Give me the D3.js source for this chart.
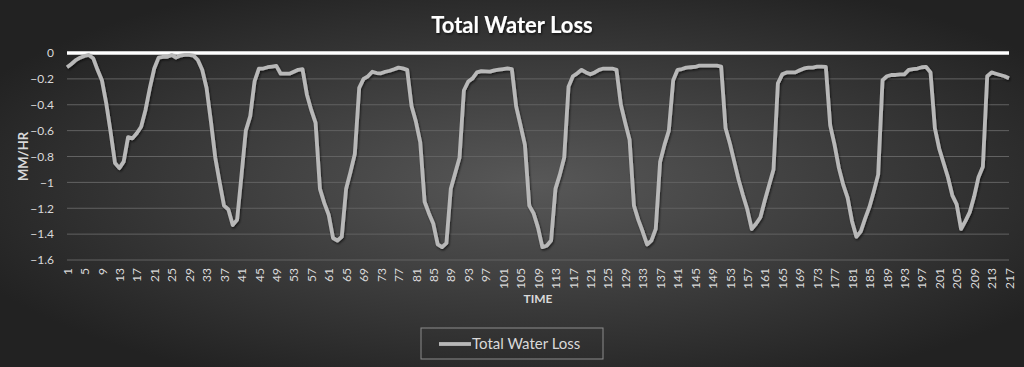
<!DOCTYPE html>
<html>
<head>
<meta charset="utf-8">
<script src="https://cdn.jsdelivr.net/npm/d3@7"></script>
<style>
  html, body { margin: 0; padding: 0; background: #2a2a2a; }
  svg { display: block; font-family: Lato, "Open Sans", sans-serif; }
</style>
</head>
<body>
<div id="chart"></div>
<script>
// total water loss, mm/hr, one value per time step (1..217)
var loss = [
  -0.11, -0.085, -0.055, -0.036, -0.023, -0.015, -0.04, -0.13, -0.21, -0.39,
  -0.61, -0.85, -0.89, -0.84, -0.65, -0.66, -0.62, -0.57, -0.44, -0.27,
  -0.12, -0.036, -0.03, -0.03, -0.015, -0.036, -0.02, -0.015, -0.015, -0.02,
  -0.054, -0.13, -0.27, -0.53, -0.81, -1.0, -1.18, -1.21, -1.33, -1.29,
  -0.95, -0.6, -0.49, -0.22, -0.12, -0.12, -0.11, -0.105, -0.1, -0.16,
  -0.16, -0.16, -0.145, -0.13, -0.125, -0.32, -0.44, -0.54, -1.05, -1.16,
  -1.25, -1.43, -1.45, -1.42, -1.05, -0.92, -0.78, -0.27, -0.2, -0.18,
  -0.145, -0.155, -0.157, -0.145, -0.137, -0.126, -0.113, -0.119, -0.13, -0.41,
  -0.53, -0.69, -1.15, -1.24, -1.32, -1.48, -1.5, -1.47, -1.05, -0.93,
  -0.81, -0.29, -0.22, -0.196, -0.15, -0.14, -0.142, -0.144, -0.134, -0.129,
  -0.124, -0.119, -0.124, -0.415, -0.56, -0.71, -1.18, -1.24, -1.35, -1.5,
  -1.49, -1.45, -1.05, -0.94, -0.81, -0.26, -0.18, -0.157, -0.13, -0.15,
  -0.165, -0.15, -0.13, -0.12, -0.12, -0.12, -0.13, -0.4, -0.54, -0.67,
  -1.18, -1.29, -1.38, -1.48, -1.45, -1.36, -0.84, -0.71, -0.6, -0.21,
  -0.13, -0.124, -0.113, -0.11, -0.108, -0.098, -0.098, -0.098, -0.098, -0.098,
  -0.105, -0.58, -0.7, -0.84, -0.98, -1.1, -1.21, -1.36, -1.32, -1.27,
  -1.14, -1.02, -0.9, -0.235, -0.165, -0.15, -0.15, -0.15, -0.134, -0.119,
  -0.113, -0.113, -0.106, -0.106, -0.108, -0.56, -0.71, -0.89, -1.02, -1.12,
  -1.3, -1.42, -1.38, -1.28, -1.19, -1.07, -0.94, -0.21, -0.18, -0.17,
  -0.17, -0.165, -0.165, -0.13, -0.124, -0.12, -0.11, -0.108, -0.15, -0.58,
  -0.74, -0.85, -0.96, -1.1, -1.17, -1.36, -1.3, -1.23, -1.11, -0.96,
  -0.88, -0.18, -0.15, -0.16, -0.17, -0.18, -0.195
]
var time = d3.range(1, loss.length + 1)
var yTicks = [0, -0.2, -0.4, -0.6, -0.8, -1, -1.2, -1.4, -1.6]

var W = 1024, H = 367
var plot = {left: 67, right: 1009, top: 53, bottom: 260}

var svg = d3.select("#chart").append("svg")
  .attr("width", W)
  .attr("height", H)

// background
var defs = svg.append("defs")
var grad = defs.append("radialGradient")
  .attr("id", "bg")
  .attr("cx", "52%").attr("cy", "50%").attr("r", "60%")
grad.append("stop").attr("offset", "0%").attr("stop-color", "#585858")
grad.append("stop").attr("offset", "100%").attr("stop-color", "#222222")
svg.append("rect")
  .attr("width", W).attr("height", H)
  .attr("fill", "url(#bg)")

var shadow = defs.append("filter").attr("id", "shadow")
  .attr("x", "-5%").attr("y", "-20%").attr("width", "110%").attr("height", "140%")
shadow.append("feDropShadow")
  .attr("dx", 1).attr("dy", 1.5).attr("stdDeviation", 1.2)
  .attr("flood-color", "#000").attr("flood-opacity", 0.6)

//scales
var x = d3.scalePoint()
  .domain(time)
  .range([plot.left, plot.right])
var y = d3.scaleLinear()
  .domain([-1.6, 0])
  .range([plot.bottom, plot.top])

// gridlines
svg.append("g")
  .selectAll("line")
  .data(yTicks.filter(function(d){ return d !== 0 }))
  .enter()
  .append("line")
    .attr("x1", plot.left)
    .attr("x2", plot.right)
    .attr("y1", function(d){ return y(d) })
    .attr("y2", function(d){ return y(d) })
    .attr("stroke", "#626262")
    .attr("stroke-width", 1)

// y axis labels
var yAxis = svg.append("g")
  .attr("transform", "translate(" + (plot.left - 10) + ",0)")
  .call(d3.axisLeft(y).tickValues(yTicks).tickSize(0).tickFormat(function(d){ return d === 0 ? "0" : d3.format("")(+d.toFixed(1)) }))
yAxis.select(".domain").remove()
yAxis.selectAll("text")
  .attr("fill", "#d9d9d9")
  .attr("font-size", "12px")
  .attr("font-family", "Lato, sans-serif")

// x axis labels, every 4th
var xAxis = svg.append("g")
  .attr("transform", "translate(0," + (plot.bottom + 6) + ")")
  .call(d3.axisBottom(x).tickValues(time.filter(function(d){ return (d - 1) % 4 === 0 })).tickSize(0))
xAxis.select(".domain").remove()
xAxis.selectAll("text")
  .attr("fill", "#d9d9d9")
  .attr("font-size", "12px")
  .attr("font-family", "Lato, sans-serif")
  .attr("transform", "rotate(-90)")
  .attr("text-anchor", "end")
  .attr("dy", "0.35em")
  .attr("x", -2)
  .attr("y", 0)

// zero line (category axis)
svg.append("line")
  .attr("x1", plot.left)
  .attr("x2", plot.right)
  .attr("y1", y(0))
  .attr("y2", y(0))
  .attr("stroke", "#ffffff")
  .attr("stroke-width", 3.5)

// series
var line = d3.line()
  .x(function(d, i){ return x(time[i]) })
  .y(function(d){ return y(d) })
svg.append("path")
  .datum(loss)
  .attr("d", line)
  .attr("fill", "none")
  .attr("stroke", "#b8b8b8")
  .attr("stroke-width", 3.8)
  .attr("stroke-linejoin", "round")
  .attr("filter", "url(#shadow)")

// title
svg.append("text")
  .attr("x", W / 2)
  .attr("y", 33)
  .attr("text-anchor", "middle")
  .attr("fill", "#ffffff")
  .attr("font-size", "22px")
  .attr("font-weight", "bold")
  .attr("filter", "url(#shadow)")
  .text("Total Water Loss")

// axis titles
svg.append("text")
  .attr("transform", "translate(28," + ((plot.top + plot.bottom) / 2) + ") rotate(-90)")
  .attr("text-anchor", "middle")
  .attr("fill", "#d9d9d9")
  .attr("font-size", "13px")
  .attr("font-weight", "bold")
  .text("MM/HR")

svg.append("text")
  .attr("x", (plot.left + plot.right) / 2)
  .attr("y", 303)
  .attr("text-anchor", "middle")
  .attr("fill", "#d9d9d9")
  .attr("font-size", "12px")
  .attr("font-weight", "bold")
  .text("TIME")

// legend
var legend = svg.append("g").attr("transform", "translate(421,328)")
legend.append("rect")
  .attr("width", 182)
  .attr("height", 31)
  .attr("fill", "none")
  .attr("stroke", "#8c8c8c")
  .attr("stroke-width", 1)
legend.append("line")
  .attr("x1", 18).attr("x2", 50)
  .attr("y1", 16).attr("y2", 16)
  .attr("stroke", "#b8b8b8")
  .attr("stroke-width", 3.8)
legend.append("text")
  .attr("x", 51)
  .attr("y", 21)
  .attr("fill", "#d9d9d9")
  .attr("font-size", "15px")
  .text("Total Water Loss")
</script>
</body>
</html>
